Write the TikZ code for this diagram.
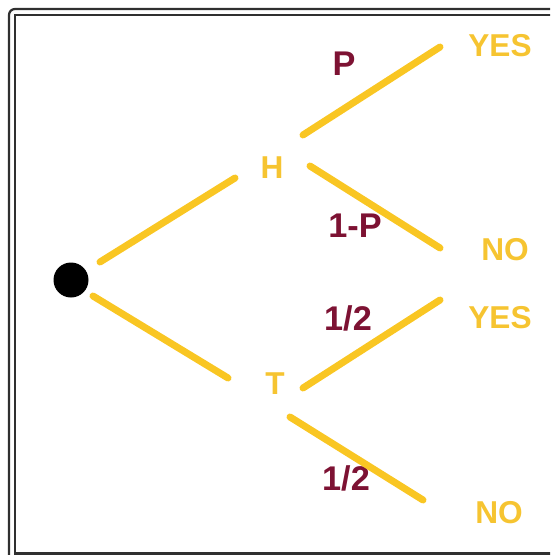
\documentclass[tikz,border=0pt]{standalone}
\usepackage{fontspec}
\setmainfont{Liberation Sans}
\usepackage{xcolor}
\usetikzlibrary{positioning}
\definecolor{branchyellow}{HTML}{F9C623}
\definecolor{labelyellow}{HTML}{F6C431}
\definecolor{probred}{HTML}{7D1233}
\definecolor{framegray}{HTML}{303030}

\begin{document}
\begin{tikzpicture}[x=0.2mm, y=-0.2mm,
  branch/.style={line width=1.4mm, draw=branchyellow, line cap=round},
  outcome/.style={text=labelyellow, font=\fontsize{18}{21}\selectfont\bfseries, inner sep=0pt},
  prob/.style={text=probred, font=\fontsize{19.5}{22}\selectfont\bfseries, inner sep=0pt}]
  \useasboundingbox (0,0) rectangle (550,555);
  \clip (0,0) rectangle (550,555);

  % Double frame
  \draw[framegray, line width=0.45mm, rounded corners=1.2mm] (9,560) |- (560,9);
  \draw[framegray, line width=0.45mm] (560,553.5) -| (15,15) -- (560,15);

  % Start point and outcomes
  \node[circle, fill=black, minimum size=7mm, inner sep=0pt] (root) at (71,280) {};
  \node[outcome] (H) at (272,168) {H};
  \node[outcome] (T) at (275,384) {T};
  \node[outcome] (yesH) at (500,46) {YES};
  \node[outcome] (noH) at (505,250) {NO};
  \node[outcome] (yesT) at (500,318) {YES};
  \node[outcome] (noT) at (499,513) {NO};

  % Probabilities
  \node[prob] (pH) at (344,64) {P};
  \node[prob] (qH) at (355,226) {1-P};
  \node[prob] (pT) at (348,318) {1/2};
  \node[prob] (qT) at (346,478) {1/2};

  % Branch ends
  \coordinate (rootH) at (100,262);
  \coordinate (Hin) at (235,178);
  \coordinate (rootT) at (93,296);
  \coordinate (Tin) at (228,378);
  \coordinate (Hup) at (303,135);
  \coordinate (yesHin) at (440,47);
  \coordinate (Hdown) at (310,166);
  \coordinate (noHin) at (440,248);
  \coordinate (Tup) at (303,388);
  \coordinate (yesTin) at (440,300);
  \coordinate (Tdown) at (290,417);
  \coordinate (noTin) at (423,500);

  % Branches
  \draw[branch] (rootH) -- (Hin);
  \draw[branch] (rootT) -- (Tin);
  \draw[branch] (Hup) -- (yesHin);
  \draw[branch] (Hdown) -- (noHin);
  \draw[branch] (Tup) -- (yesTin);
  \draw[branch] (Tdown) -- (noTin);
\end{tikzpicture}
\end{document}
